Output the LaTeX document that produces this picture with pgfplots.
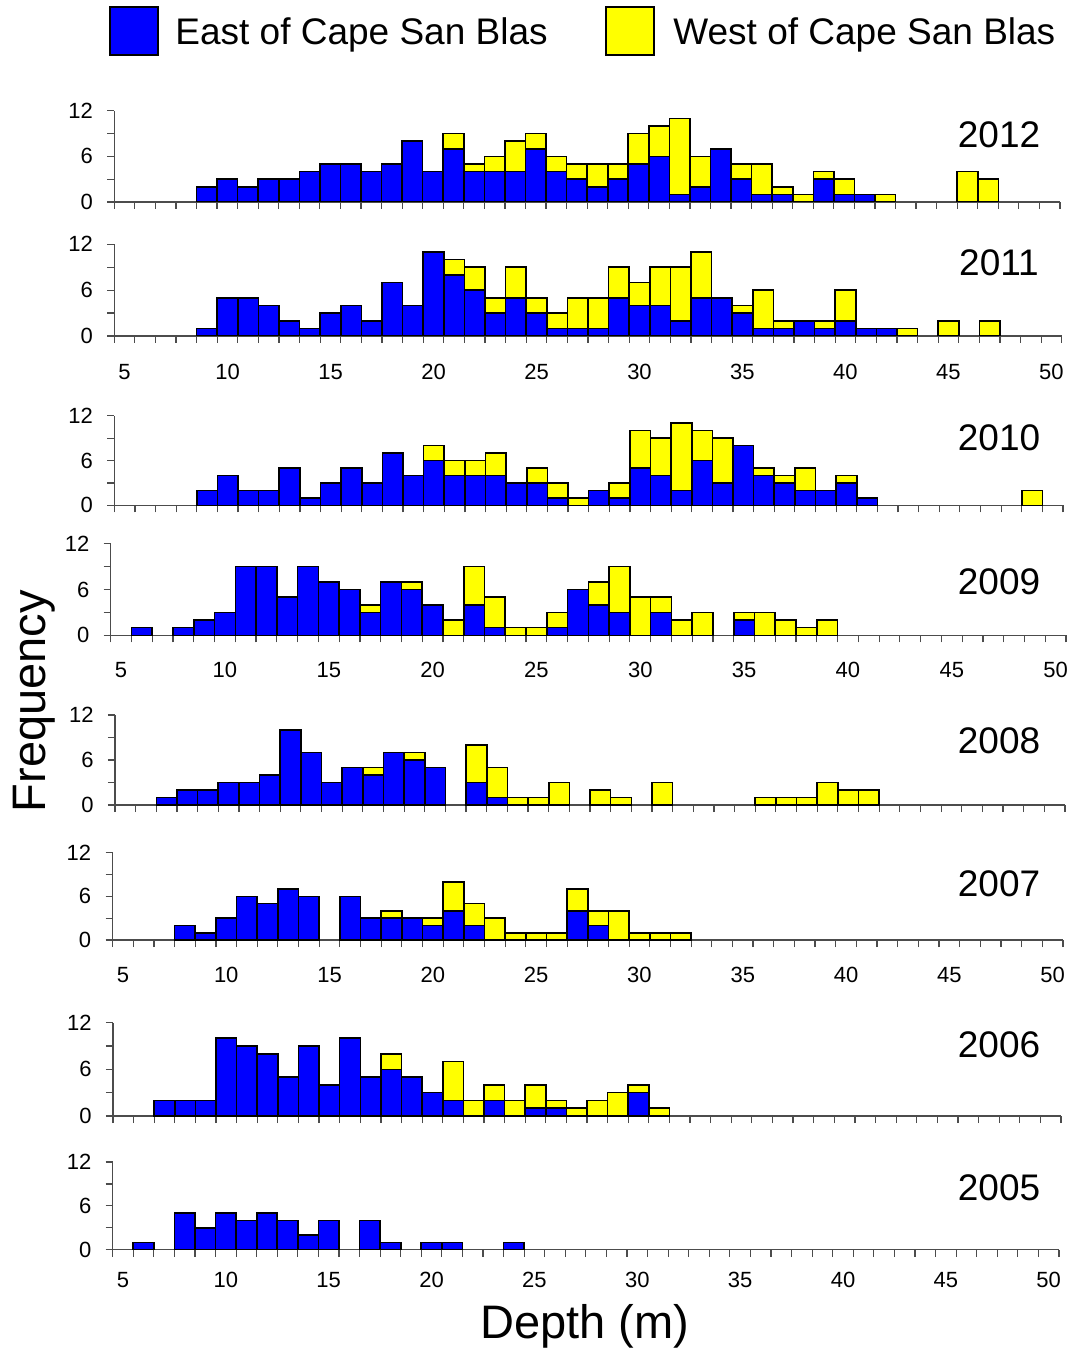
\documentclass[border=0pt]{standalone}
\usepackage{pgfplots}
\pgfplotsset{compat=1.18}
\usepackage{pgfplotstable}
\usepackage{fontspec}
\setmainfont{Liberation Sans}
\definecolor{eastc}{RGB}{0,0,255}
\definecolor{westc}{RGB}{255,255,0}

\pgfplotstableread{
d e w
9 2 0
10 3 0
11 2 0
12 3 0
13 3 0
14 4 0
15 5 0
16 5 0
17 4 0
18 5 0
19 8 0
20 4 0
21 7 2
22 4 1
23 4 2
24 4 4
25 7 2
26 4 2
27 3 2
28 2 3
29 3 2
30 5 4
31 6 4
32 1 10
33 2 4
34 7 0
35 3 2
36 1 4
37 1 1
38 0 1
39 3 1
40 1 2
41 1 0
42 0 1
46 0 4
47 0 3
}\Ttwelve

\pgfplotstableread{
d e w
9 1 0
10 5 0
11 5 0
12 4 0
13 2 0
14 1 0
15 3 0
16 4 0
17 2 0
18 7 0
19 4 0
20 11 0
21 8 2
22 6 3
23 3 2
24 5 4
25 3 2
26 1 2
27 1 4
28 1 4
29 5 4
30 4 3
31 4 5
32 2 7
33 5 6
34 5 0
35 3 1
36 1 5
37 1 1
38 2 0
39 1 1
40 2 4
41 1 0
42 1 0
43 0 1
45 0 2
47 0 2
}\Televen

\pgfplotstableread{
d e w
9 2 0
10 4 0
11 2 0
12 2 0
13 5 0
14 1 0
15 3 0
16 5 0
17 3 0
18 7 0
19 4 0
20 6 2
21 4 2
22 4 2
23 4 3
24 3 0
25 3 2
26 1 2
27 0 1
28 2 0
29 1 2
30 5 5
31 4 5
32 2 9
33 6 4
34 3 6
35 8 0
36 4 1
37 3 1
38 2 3
39 2 0
40 3 1
41 1 0
49 0 2
}\Tten

\pgfplotstableread{
d e w
6 1 0
8 1 0
9 2 0
10 3 0
11 9 0
12 9 0
13 5 0
14 9 0
15 7 0
16 6 0
17 3 1
18 7 0
19 6 1
20 4 0
21 0 2
22 4 5
23 1 4
24 0 1
25 0 1
26 1 2
27 6 0
28 4 3
29 3 6
30 0 5
31 3 2
32 0 2
33 0 3
35 2 1
36 0 3
37 0 2
38 0 1
39 0 2
}\Tnine

\pgfplotstableread{
d e w
7 1 0
8 2 0
9 2 0
10 3 0
11 3 0
12 4 0
13 10 0
14 7 0
15 3 0
16 5 0
17 4 1
18 7 0
19 6 1
20 5 0
22 3 5
23 1 4
24 0 1
25 0 1
26 0 3
28 0 2
29 0 1
31 0 3
36 0 1
37 0 1
38 0 1
39 0 3
40 0 2
41 0 2
}\Teight

\pgfplotstableread{
d e w
8 2 0
9 1 0
10 3 0
11 6 0
12 5 0
13 7 0
14 6 0
16 6 0
17 3 0
18 3 1
19 3 0
20 2 1
21 4 4
22 2 3
23 0 3
24 0 1
25 0 1
26 0 1
27 4 3
28 2 2
29 0 4
30 0 1
31 0 1
32 0 1
}\Tseven

\pgfplotstableread{
d e w
7 2 0
8 2 0
9 2 0
10 10 0
11 9 0
12 8 0
13 5 0
14 9 0
15 4 0
16 10 0
17 5 0
18 6 2
19 5 0
20 3 0
21 2 5
22 0 2
23 2 2
24 0 2
25 1 3
26 1 1
27 0 1
28 0 2
29 0 3
30 3 1
31 0 1
}\Tsix

\pgfplotstableread{
d e
6 1
8 5
9 3
10 5
11 4
12 5
13 4
14 2
15 4
17 4
18 1
20 1
21 1
24 1
}\Tfive

\pgfplotsset{
  panel/.style={
    scale only axis, anchor=south west,
    xmin=4.5, xmax=50.5, ymin=0, ymax=12,
    enlargelimits=false,
    ybar stacked, bar width=1,
    axis x line*=bottom, axis y line*=left,
    axis line style={-, draw=black!70, line width=0.6pt},
    xtick={4.5,5.5,...,50.5}, xticklabels={},
    ytick={0,6,12}, yticklabels={0,6,12}, minor ytick={3,9},
    tick align=outside, major tick length=3.5pt, minor tick length=3.5pt,
    tick style={draw=black!70, line width=0.6pt},
    yticklabel style={font=\fontsize{11}{13}\selectfont, anchor=east, inner sep=0pt, xshift=-7pt},
    xticklabel style={font=\fontsize{11}{13}\selectfont, anchor=center, inner sep=0pt},
    every axis plot/.append style={draw=black, line width=0.8pt},
  },
  xlab/.style={
    extra x ticks={5,10,...,50},
    extra x tick labels={5,10,15,20,25,30,35,40,45,50},
    extra x tick style={major tick length=0pt, xticklabel style={yshift=#1}},
  },
}

\begin{document}
\begin{tikzpicture}
\useasboundingbox (0pt,0pt) rectangle (537.5pt,-676pt);
% legend
\filldraw[fill=eastc, draw=black, line width=0.7pt] (55pt,-3.5pt) rectangle (79pt,-27.5pt);
\node[anchor=base west, inner sep=0pt, font=\fontsize{18.5}{22}\selectfont] at (87.5pt,-22.5pt) {East of Cape San Blas};
\filldraw[fill=westc, draw=black, line width=0.7pt] (303pt,-3.5pt) rectangle (327pt,-27.5pt);
\node[anchor=base west, inner sep=0pt, font=\fontsize{18.5}{22}\selectfont] at (336.5pt,-22.5pt) {West of Cape San Blas};

% 2012
\begin{axis}[panel, at={(57.15pt,-101pt)}, width=472.85pt, height=45.65pt]
\addplot[fill=eastc] table[x=d,y=e] {\Ttwelve};
\addplot[fill=westc] table[x=d,y=w] {\Ttwelve};
\end{axis}
% 2011
\begin{axis}[panel, xlab=-18pt, at={(57.15pt,-168pt)}, width=473.7pt, height=45.85pt]
\addplot[fill=eastc] table[x=d,y=e] {\Televen};
\addplot[fill=westc] table[x=d,y=w] {\Televen};
\end{axis}
% 2010
\begin{axis}[panel, at={(57.15pt,-252.65pt)}, width=474.35pt, height=44.8pt]
\addplot[fill=eastc] table[x=d,y=e] {\Tten};
\addplot[fill=westc] table[x=d,y=w] {\Tten};
\end{axis}
% 2009
\begin{axis}[panel, xlab=-17.5pt, at={(55.35pt,-317.65pt)}, width=477.65pt, height=45.8pt]
\addplot[fill=eastc] table[x=d,y=e] {\Tnine};
\addplot[fill=westc] table[x=d,y=w] {\Tnine};
\end{axis}
% 2008
\begin{axis}[panel, at={(57.5pt,-402.5pt)}, width=475pt, height=45pt]
\addplot[fill=eastc] table[x=d,y=e] {\Teight};
\addplot[fill=westc] table[x=d,y=w] {\Teight};
\end{axis}
% 2007
\begin{axis}[panel, xlab=-17.5pt, at={(56.3pt,-470pt)}, width=475.2pt, height=43.65pt]
\addplot[fill=eastc] table[x=d,y=e] {\Tseven};
\addplot[fill=westc] table[x=d,y=w] {\Tseven};
\end{axis}
% 2006
\begin{axis}[panel, at={(56.5pt,-558pt)}, width=474pt, height=46.65pt]
\addplot[fill=eastc] table[x=d,y=e] {\Tsix};
\addplot[fill=westc] table[x=d,y=w] {\Tsix};
\end{axis}
% 2005
\begin{axis}[panel, xlab=-15pt, at={(56.35pt,-624.85pt)}, width=473.15pt, height=43.85pt]
\addplot[fill=eastc] table[x=d,y=e] {\Tfive};
\end{axis}

% year labels
\begin{scope}[every node/.style={inner sep=0pt, font=\fontsize{18.5}{22}\selectfont}]
\node at (499.5pt,-67.5pt) {2012};
\node at (499.5pt,-131.5pt) {2011};
\node at (499.5pt,-219pt) {2010};
\node at (499.5pt,-291pt) {2009};
\node at (499.5pt,-370.5pt) {2008};
\node at (499.5pt,-442pt) {2007};
\node at (499.5pt,-522.5pt) {2006};
\node at (499.5pt,-594pt) {2005};
\end{scope}

\node[rotate=90, anchor=base, inner sep=0pt, font=\fontsize{23.5}{28}\selectfont] at (22.8pt,-350.5pt) {Frequency};
\node[anchor=base, inner sep=0pt, font=\fontsize{23.5}{28}\selectfont] at (292.5pt,-669.3pt) {Depth (m)};
\end{tikzpicture}
\end{document}
